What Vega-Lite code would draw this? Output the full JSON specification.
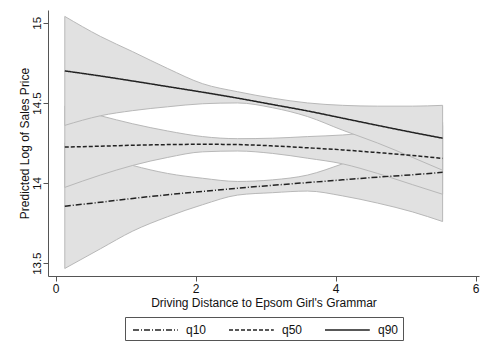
{
  "$schema": "https://vega.github.io/schema/vega-lite/v6.json",
  "width": 431,
  "height": 266,
  "autosize": {"type": "none"},
  "padding": {"left": 48, "top": 10, "right": 3, "bottom": 67},
  "background": "white",
  "config": {
    "view": {"stroke": null},
    "font": "Liberation Sans",
    "axis": {"domainColor": "#555", "tickColor": "#555", "grid": false, "labelColor": "#111", "titleColor": "#111", "labelFontSize": 12, "titleFontSize": 12, "titleFontWeight": "normal", "tickSize": 5}
  },
  "data": {"values": [
    {"x": 0.13, "q": "q10", "fit": 13.856, "lo": 13.467, "hi": 14.25},
    {"x": 0.64, "q": "q10", "fit": 13.88, "lo": 13.59, "hi": 14.17},
    {"x": 1.1, "q": "q10", "fit": 13.904, "lo": 13.70, "hi": 14.11},
    {"x": 1.6, "q": "q10", "fit": 13.927, "lo": 13.79, "hi": 14.06},
    {"x": 2.1, "q": "q10", "fit": 13.948, "lo": 13.865, "hi": 14.03},
    {"x": 2.6, "q": "q10", "fit": 13.968, "lo": 13.925, "hi": 14.01},
    {"x": 3.1, "q": "q10", "fit": 13.986, "lo": 13.94, "hi": 14.02},
    {"x": 3.6, "q": "q10", "fit": 14.003, "lo": 13.95, "hi": 14.05},
    {"x": 4.1, "q": "q10", "fit": 14.02, "lo": 13.92, "hi": 14.12},
    {"x": 4.6, "q": "q10", "fit": 14.037, "lo": 13.875, "hi": 14.2},
    {"x": 5.1, "q": "q10", "fit": 14.052, "lo": 13.82, "hi": 14.28},
    {"x": 5.53, "q": "q10", "fit": 14.067, "lo": 13.76, "hi": 14.36},
    {"x": 0.13, "q": "q50", "fit": 14.225, "lo": 13.973, "hi": 14.48},
    {"x": 0.64, "q": "q50", "fit": 14.23, "lo": 14.05, "hi": 14.42},
    {"x": 1.1, "q": "q50", "fit": 14.236, "lo": 14.11, "hi": 14.37},
    {"x": 1.6, "q": "q50", "fit": 14.24, "lo": 14.16, "hi": 14.325},
    {"x": 2.1, "q": "q50", "fit": 14.242, "lo": 14.195, "hi": 14.29},
    {"x": 2.6, "q": "q50", "fit": 14.24, "lo": 14.2, "hi": 14.277},
    {"x": 3.1, "q": "q50", "fit": 14.232, "lo": 14.185, "hi": 14.28},
    {"x": 3.6, "q": "q50", "fit": 14.22, "lo": 14.155, "hi": 14.29},
    {"x": 4.1, "q": "q50", "fit": 14.207, "lo": 14.12, "hi": 14.30},
    {"x": 4.6, "q": "q50", "fit": 14.19, "lo": 14.06, "hi": 14.32},
    {"x": 5.1, "q": "q50", "fit": 14.172, "lo": 13.99, "hi": 14.35},
    {"x": 5.53, "q": "q50", "fit": 14.154, "lo": 13.93, "hi": 14.38},
    {"x": 0.13, "q": "q90", "fit": 14.70, "lo": 14.36, "hi": 15.04},
    {"x": 0.64, "q": "q90", "fit": 14.668, "lo": 14.42, "hi": 14.915},
    {"x": 1.1, "q": "q90", "fit": 14.637, "lo": 14.452, "hi": 14.82},
    {"x": 1.6, "q": "q90", "fit": 14.602, "lo": 14.476, "hi": 14.715},
    {"x": 2.1, "q": "q90", "fit": 14.567, "lo": 14.495, "hi": 14.62},
    {"x": 2.6, "q": "q90", "fit": 14.53, "lo": 14.50, "hi": 14.57},
    {"x": 3.1, "q": "q90", "fit": 14.49, "lo": 14.47, "hi": 14.53},
    {"x": 3.6, "q": "q90", "fit": 14.45, "lo": 14.415, "hi": 14.50},
    {"x": 4.1, "q": "q90", "fit": 14.405, "lo": 14.33, "hi": 14.485},
    {"x": 4.6, "q": "q90", "fit": 14.36, "lo": 14.25, "hi": 14.48},
    {"x": 5.1, "q": "q90", "fit": 14.316, "lo": 14.16, "hi": 14.48},
    {"x": 5.53, "q": "q90", "fit": 14.28, "lo": 14.08, "hi": 14.485}
  ]},
  "encoding": {
    "x": {"field": "x", "type": "quantitative", "scale": {"domain": [-0.11, 6.05], "nice": false, "zero": false},
      "axis": {"values": [0, 2, 4, 6], "format": "d", "title": "Driving Distance to Epsom Girl's Grammar", "labelPadding": 2, "titlePadding": 3}}
  },
  "layer": [
    {
      "mark": {"type": "area", "interpolate": "monotone", "fill": "#e1e1e1", "fillOpacity": 1, "stroke": "#b8b8b8", "strokeWidth": 1},
      "encoding": {
        "y": {"field": "lo", "type": "quantitative", "scale": {"domain": [13.42, 15.08], "nice": false, "zero": false},
          "axis": {"values": [13.5, 14, 14.5, 15], "format": ".3~g", "title": "Predicted Log of Sales Price", "labelAngle": 270, "labelAlign": "center", "labelBaseline": "bottom", "labelPadding": 1, "labelFontSize": 11.5, "titlePadding": 0}},
        "y2": {"field": "hi"},
        "detail": {"field": "q"}
      }
    },
    {
      "mark": {"type": "line", "interpolate": "monotone", "color": "#222", "strokeWidth": 1.5},
      "encoding": {
        "y": {"field": "fit", "type": "quantitative"},
        "strokeDash": {"field": "q", "type": "nominal",
          "scale": {"domain": ["q10", "q50", "q90"], "range": [[6, 2, 1, 2], [4, 2], [1, 0]]},
          "legend": {"title": null, "orient": "none", "legendX": 77, "legendY": 307, "direction": "horizontal",
            "strokeColor": "#555", "padding": 4, "symbolType": "M-2.8,0H2.8", "symbolSize": 256, "symbolOffset": 17.4,
            "symbolStrokeColor": "#222", "symbolStrokeWidth": 1.5, "labelFontSize": 12, "labelColor": "#111",
            "labelOffset": 21.6, "columnPadding": 18}}
      }
    }
  ]
}
